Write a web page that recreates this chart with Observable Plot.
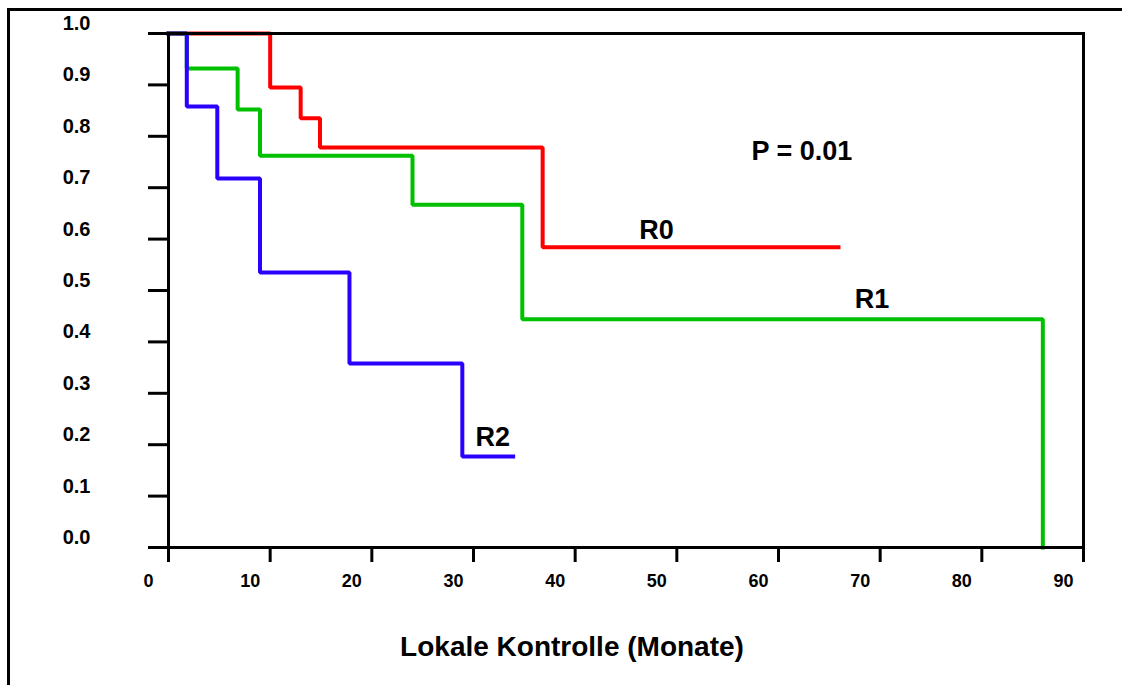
<!DOCTYPE html>
<html>
<head>
<meta charset="utf-8">
<script src="https://cdn.jsdelivr.net/npm/d3@7"></script>
<script src="https://cdn.jsdelivr.net/npm/@observablehq/plot@0.6"></script>
<style>
  html, body { margin: 0; padding: 0; background: #fff; overflow: hidden; }
  #wrap { position: relative; width: 1122px; height: 685px; overflow: hidden; }
  #border { position: absolute; left: 7px; top: 8px; width: 1200px; height: 800px;
            border-left: 3px solid #000; border-top: 3px solid #000; }
  #chart { position: absolute; left: 0; top: 0; }
  svg text { font-family: "Liberation Sans", Arial, sans-serif; font-weight: bold; }
</style>
</head>
<body>
<div id="wrap"><div id="border"></div><div id="chart"></div></div>
<script>
// Kaplan-Meier step data (months, survival fraction)
const r0Time = [0, 10.0, 13.0, 14.9, 36.8, 65.9];
const r0Surv = [1.0, 0.895, 0.835, 0.778, 0.584, 0.584];
const r1Time = [0, 1.8, 6.8, 9.0, 24.0, 34.8, 86.0];
const r1Surv = [1.0, 0.932, 0.852, 0.762, 0.667, 0.444, 0.0];
const r2Time = [0, 1.8, 4.8, 9.0, 17.8, 28.9, 33.9];
const r2Surv = [1.0, 0.858, 0.718, 0.535, 0.358, 0.177, 0.177];

const groupNames = ["R0", "R1", "R2"];
const groupColors = ["#ff0000", "#00c000", "#2a00ff"];
const labelX = [48.0, 69.2, 31.9];
const labelY = [0.601, 0.465, 0.198];

const pText = "P = 0.01";
const pX = 62.3, pY = 0.753;

const xTicks = [0, 10, 20, 30, 40, 50, 60, 70, 80, 90];
const yTicks = [0, 0.1, 0.2, 0.3, 0.4, 0.5, 0.6, 0.7, 0.8, 0.9, 1.0];
const xTitle = "Lokale Kontrolle (Monate)";

const series = [[r0Time, r0Surv], [r1Time, r1Surv], [r2Time, r2Surv]];
const rows = series.flatMap(([t, s], i) => t.map((v, j) => ({group: groupNames[i], t: v, s: s[j]})));
const labels = groupNames.map((g, i) => ({g, x: labelX[i], y: labelY[i]}));

const chart = Plot.plot({
  width: 1122,
  height: 685,
  marginLeft: 168,
  marginRight: 39,
  marginTop: 33,
  marginBottom: 138,
  style: {background: "transparent", color: "#000", overflow: "visible"},
  x: {domain: [0, 90]},
  y: {domain: [0, 1]},
  color: {domain: groupNames, range: groupColors},
  marks: [
    Plot.line(rows, {x: "t", y: "s", z: "group", stroke: "group", curve: "step-after", strokeWidth: 4, strokeLinejoin: "miter", strokeLinecap: "square"}),
    Plot.frame({stroke: "#000", strokeWidth: 3}),
    // tick marks
    Plot.axisX({ticks: xTicks, tickSize: 15, strokeWidth: 3, text: null, label: null}),
    Plot.axisY({ticks: yTicks, tickSize: 20, strokeWidth: 3, text: null, label: null}),
    // tick labels (offset like the reference)
    Plot.axisX({ticks: xTicks, tickSize: 0, tickPadding: 27, fontSize: 18, dx: -20, label: null, tickFormat: d => String(d)}),
    Plot.axisY({ticks: yTicks, tickSize: 0, tickPadding: 78, fontSize: 20, dy: -10, label: null, tickFormat: d3.format(".1f")}),
    Plot.text(labels, {x: "x", y: "y", text: "g", fontSize: 27, fontWeight: "bold", lineAnchor: "bottom", textAnchor: "middle", fill: "#000"}),
    Plot.text([pText], {x: pX, y: pY, text: d => d, fontSize: 27, fontWeight: "bold", lineAnchor: "bottom", textAnchor: "middle", fill: "#000"}),
    Plot.text([xTitle], {frameAnchor: "bottom", text: d => d, dy: 108, dx: -54, fontSize: 28, fontWeight: "bold", lineAnchor: "bottom", textAnchor: "middle", fill: "#000"})
  ]
});
document.getElementById("chart").appendChild(chart);
</script>
</body>
</html>
